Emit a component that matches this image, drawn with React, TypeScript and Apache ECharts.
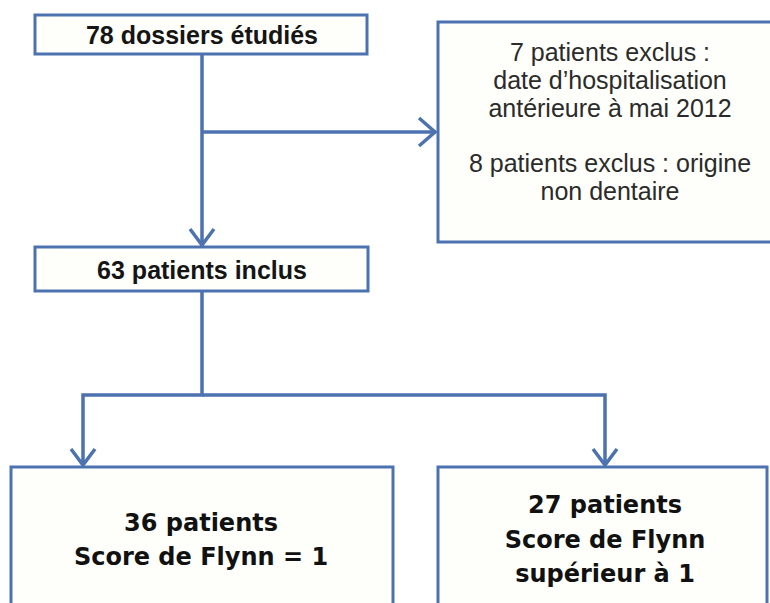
import React, { useEffect, useRef } from "react";
import * as echarts from "echarts";

// ---- Data (texts of the flowchart) ----
const topLabel = "78 dossiers étudiés";
const includedLabel = "63 patients inclus";
const excludedLines = [
  "7 patients exclus :",
  "date d’hospitalisation",
  "antérieure à mai 2012",
  "8 patients exclus : origine",
  "non dentaire",
];
const leftGroupLines = ["36 patients", "Score de Flynn = 1"];
const rightGroupLines = ["27 patients", "Score de Flynn", "supérieur à 1"];

const BLUE = "#4C72B0";
const FILL = "#FEFEFA";
const LW = 3.5;

function rect(x: number, y: number, w: number, h: number) {
  return {
    type: "rect",
    shape: { x, y, width: w, height: h },
    style: { fill: FILL, stroke: BLUE, lineWidth: 3 },
    z: 1,
  };
}

function line(points: number[][]) {
  return {
    type: "polyline",
    shape: { points },
    style: { stroke: BLUE, lineWidth: LW, fill: null, lineJoin: "miter", lineCap: "butt" },
    z: 2,
  };
}

function txt(text: string, x: number, y: number, font: string, fill: string) {
  return {
    type: "text",
    x,
    y,
    style: { text, font, fill, align: "center", verticalAlign: "middle" },
    z: 3,
  };
}

export default function App() {
  const ref = useRef<HTMLDivElement>(null);

  useEffect(() => {
    if (!ref.current) return;
    const chart = echarts.init(ref.current, undefined, { renderer: "svg" });

    const boldArial = "bold 25px 'Liberation Sans', Arial, sans-serif";
    const regArial = "25px 'Liberation Sans', Arial, sans-serif";
    const boldWide = "bold 24px 'DejaVu Sans', Verdana, sans-serif";

    const excludedY = [52, 80, 108, 163, 191];
    const leftY = [523, 557];
    const rightY = [505, 540, 574];

    const elements: any[] = [
      // boxes
      rect(35, 15, 332, 39),
      rect(438, 22, 340, 220),
      rect(35, 247, 333, 44),
      rect(11, 467, 382, 160),
      rect(438, 467, 329, 160),
      // connectors
      line([[202, 54], [202, 246]]),
      line([[190, 229], [202, 245], [214, 229]]),
      line([[202, 132], [436, 132]]),
      line([[419, 118], [435, 132], [419, 146]]),
      line([[202, 291], [202, 395], [83, 395], [83, 465]]),
      line([[202, 395], [605, 395], [605, 465]]),
      line([[71, 449], [83, 465], [95, 449]]),
      line([[593, 449], [605, 465], [617, 449]]),
      // texts
      txt(topLabel, 202, 35, boldArial, "#151515"),
      txt(includedLabel, 202, 270, boldArial, "#151515"),
      ...excludedLines.map((t, i) => txt(t, 610, excludedY[i], regArial, "#2b2b2b")),
      ...leftGroupLines.map((t, i) => txt(t, 201, leftY[i], boldWide, "#111111")),
      ...rightGroupLines.map((t, i) => txt(t, 605, rightY[i], boldWide, "#111111")),
    ];

    chart.setOption({
      animation: false,
      backgroundColor: "#ffffff",
      graphic: { elements },
    });

    return () => chart.dispose();
  }, []);

  return (
    <div
      ref={ref}
      style={{ position: "fixed", left: 0, top: 0, width: 770, height: 603, background: "#fff" }}
    />
  );
}
